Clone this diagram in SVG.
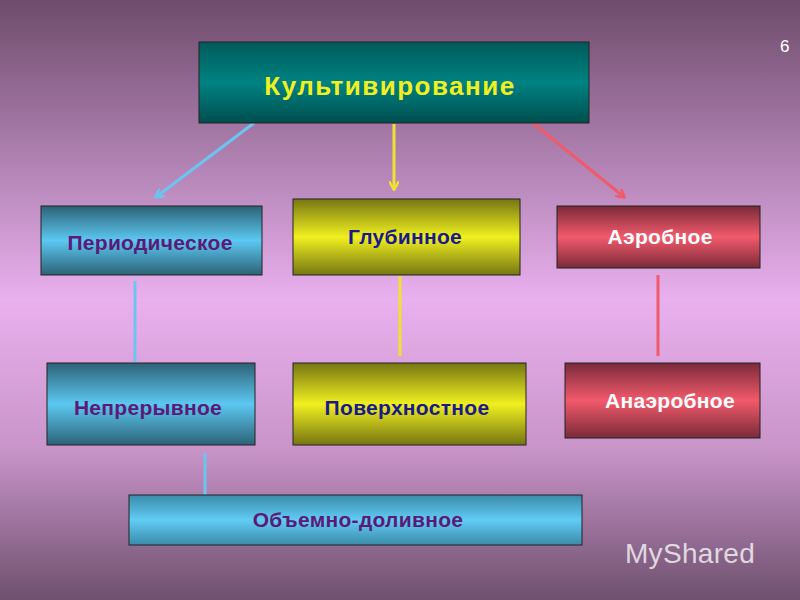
<svg xmlns="http://www.w3.org/2000/svg" width="800" height="600" viewBox="0 0 800 600">
<defs>
<linearGradient id="bg" x1="0" y1="0" x2="0" y2="1">
<stop offset="0" stop-color="#6e4c6c"/><stop offset="0.5" stop-color="#e9b0ee"/><stop offset="0.75" stop-color="#c894c8"/><stop offset="1" stop-color="#6e506e"/>
</linearGradient>
<linearGradient id="gb" x1="0" y1="0" x2="0" y2="1"><stop offset="0" stop-color="#2c6276"/><stop offset="0.5" stop-color="#5cc8f2"/><stop offset="1" stop-color="#2c6276"/></linearGradient>
<linearGradient id="gb2" x1="0" y1="0" x2="0" y2="1"><stop offset="0" stop-color="#3a8aaa"/><stop offset="0.5" stop-color="#62ccf4"/><stop offset="1" stop-color="#3a8aaa"/></linearGradient>
<linearGradient id="gy" x1="0" y1="0" x2="0" y2="1"><stop offset="0" stop-color="#767612"/><stop offset="0.5" stop-color="#f0f020"/><stop offset="1" stop-color="#767612"/></linearGradient>
<linearGradient id="gr" x1="0" y1="0" x2="0" y2="1"><stop offset="0" stop-color="#7a2a38"/><stop offset="0.5" stop-color="#f25a6c"/><stop offset="1" stop-color="#7a2a38"/></linearGradient>
<linearGradient id="gt" x1="0" y1="0" x2="0" y2="1"><stop offset="0" stop-color="#005a5a"/><stop offset="0.5" stop-color="#008282"/><stop offset="1" stop-color="#004e4e"/></linearGradient>
<marker id="ab" markerWidth="10" markerHeight="10" refX="8" refY="5" orient="auto" markerUnits="userSpaceOnUse"><path d="M0,0 L9,5 L0,10" fill="none" stroke="#6cc4f0" stroke-width="2.5"/></marker>
<marker id="ay" markerWidth="10" markerHeight="10" refX="8" refY="5" orient="auto" markerUnits="userSpaceOnUse"><path d="M0,0 L9,5 L0,10" fill="none" stroke="#f0e030" stroke-width="2.5"/></marker>
<marker id="ar" markerWidth="10" markerHeight="10" refX="8" refY="5" orient="auto" markerUnits="userSpaceOnUse"><path d="M0,0 L9,5 L0,10" fill="none" stroke="#f05a6a" stroke-width="2.5"/></marker>
</defs>
<style>
rect.n{stroke:#222;stroke-width:1}
text{font-family:"Liberation Sans",Arial,sans-serif;font-weight:bold;font-size:21px;text-anchor:middle;letter-spacing:0.3px}
.p{fill:#5a1a78}.d{fill:#1a1a8a}.w{fill:#fff}
</style>
<rect width="800" height="600" fill="url(#bg)"/>
<text x="785" y="52" style="font-weight:normal;font-size:17px;fill:#fff">6</text>
<g id="connectors" stroke-width="3" fill="none">
<line x1="254" y1="123" x2="156" y2="197" stroke="#6cc4f0" marker-end="url(#ab)"/>
<line x1="394" y1="124" x2="394" y2="189" stroke="#f0e030" marker-end="url(#ay)"/>
<line x1="533" y1="123" x2="624" y2="197" stroke="#f05a6a" marker-end="url(#ar)"/>
<line x1="135" y1="281" x2="135" y2="362" stroke="#6cc4f0"/>
<line x1="400" y1="276" x2="400" y2="356" stroke="#f0e030"/>
<line x1="658" y1="275" x2="658" y2="356" stroke="#f05a6a"/>
<line x1="205" y1="453" x2="205" y2="495" stroke="#6cc4f0"/>
</g>
<g id="n0"><rect class="n" x="199" y="42" width="390" height="81" fill="url(#gt)"/><text x="390" y="95" style="font-size:26px;letter-spacing:1.5px;fill:#f0f020">Культивирование</text></g>
<g id="n1"><rect class="n" x="41" y="206" width="221" height="69" fill="url(#gb)"/><text x="150" y="250" class="p">Периодическое</text></g>
<g id="n2"><rect class="n" x="293" y="199" width="227" height="76" fill="url(#gy)"/><text x="405" y="244" class="d">Глубинное</text></g>
<g id="n3"><rect class="n" x="557" y="206" width="203" height="62" fill="url(#gr)"/><text x="660" y="244" class="w">Аэробное</text></g>
<g id="n4"><rect class="n" x="47" y="363" width="208" height="82" fill="url(#gb)"/><text x="148" y="415" class="p">Непрерывное</text></g>
<g id="n5"><rect class="n" x="293" y="363" width="233" height="82" fill="url(#gy)"/><text x="407" y="415" class="d">Поверхностное</text></g>
<g id="n6"><rect class="n" x="565" y="363" width="195" height="75" fill="url(#gr)"/><text x="670" y="408" class="w">Анаэробное</text></g>
<g id="n7"><rect class="n" x="129" y="495" width="453" height="50" fill="url(#gb2)"/><text x="358" y="527" class="p">Объемно-доливное</text></g>
<text x="690" y="563" style="font-weight:normal;font-size:28px;fill:#fff;fill-opacity:0.75">MyShared</text>
</svg>
